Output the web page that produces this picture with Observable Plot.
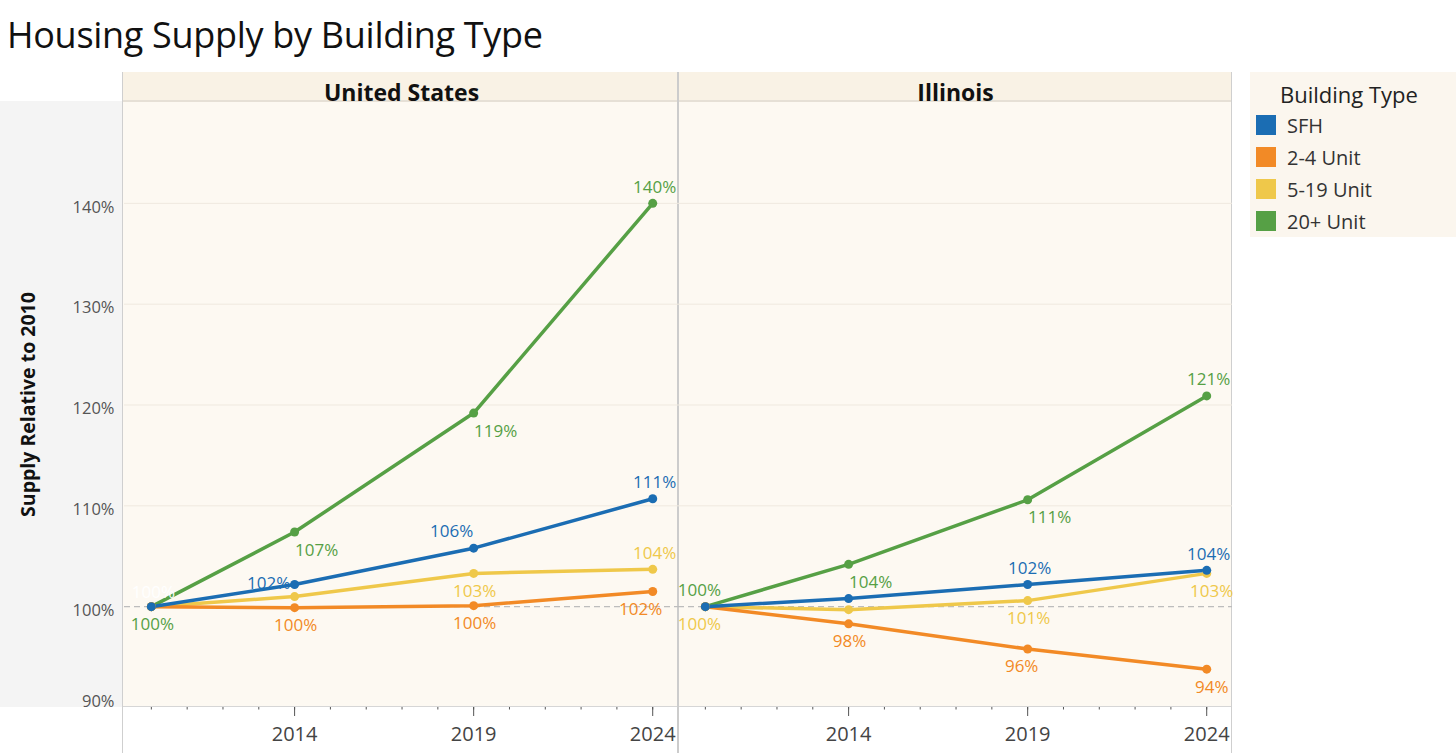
<!DOCTYPE html>
<html>
<head>
<meta charset="utf-8">
<script src="https://cdn.jsdelivr.net/npm/d3@7"></script>
<script src="https://cdn.jsdelivr.net/npm/@observablehq/plot@0.6"></script>
<style>
  html, body { margin: 0; padding: 0; background: #fff; }
  body { font-family: "Open Sans", sans-serif; }
  #wrap { position: relative; width: 1456px; height: 753px; overflow: hidden; }
  .abs { position: absolute; }
  #title { left: 7px; top: 10px; font-size: 36px; letter-spacing: -0.3px; color: #111; white-space: nowrap; line-height: 1.362; }
  #chart { left: 0; top: 72px; }
  #legend { left: 1250px; top: 72px; width: 206px; height: 165px; background: #fbf6ee; }
  #legend .lt { position: absolute; left: 30px; top: 7px; font-size: 22px; color: #222; white-space: nowrap; }
  #legend .item { position: absolute; left: 6px; height: 20px; display: flex; align-items: center; font-size: 20px; color: #333; white-space: nowrap; }
  #legend .sw { width: 20px; height: 20px; margin-right: 11px; flex: none; }
</style>
</head>
<body>
<div id="wrap">
  <div id="title" class="abs">Housing Supply by Building Type</div>
  <div class="abs" style="left:0;top:101px;width:123px;height:606px;background:#f4f4f4"></div>
  <div class="abs" style="left:123px;top:72px;width:1109px;height:29px;background:#f9f2e5"></div>
  <div class="abs" style="left:123px;top:101px;width:1109px;height:606px;background:#fdf9f2"></div>
  <div class="abs" style="left:123px;top:100px;width:1109px;height:2px;background:#e6e0d6"></div>
  <div class="abs" style="left:123px;top:706px;width:1109px;height:1px;background:#d6d6d6"></div>
  <div class="abs" style="left:122px;top:72px;width:1px;height:681px;background:#cfcfcf"></div>
  <div class="abs" style="left:677px;top:72px;width:2px;height:681px;background:#cccccc"></div>
  <div class="abs" style="left:1231px;top:72px;width:1px;height:681px;background:#cfcfcf"></div>
  <div id="chart" class="abs"></div>
  <div id="legend" class="abs"><div class="lt">Building Type</div></div>
</div>
<script>
const regions = ["United States", "Illinois"];
const types = ["SFH", "2-4 Unit", "5-19 Unit", "20+ Unit"];
const colors = ["#1b6db3", "#f28a26", "#efc84a", "#56a045"];
const years = [2010, 2014, 2019, 2024];
const yTicks = [100, 110, 120, 130, 140];
const yTickBottom = [90];
const xTicks = [2014, 2019, 2024];

const usSFH   = [100, 102.2, 105.8, 110.7];
const us24    = [100, 99.9, 100.1, 101.5];
const us519   = [100, 101.0, 103.3, 103.7];
const us20    = [100, 107.4, 119.2, 140.0];
const ilSFH   = [100, 100.8, 102.2, 103.6];
const il24    = [100, 98.3, 95.8, 93.8];
const il519   = [100, 99.7, 100.6, 103.3];
const il20    = [100, 104.2, 110.6, 120.9];

const series = [
  ["United States", "20+ Unit", us20],
  ["United States", "5-19 Unit", us519],
  ["United States", "2-4 Unit", us24],
  ["United States", "SFH", usSFH],
  ["Illinois", "20+ Unit", il20],
  ["Illinois", "5-19 Unit", il519],
  ["Illinois", "2-4 Unit", il24],
  ["Illinois", "SFH", ilSFH]
];

// which points carry a value label, and where the label sits
const labels = [
  ["United States", "SFH", 2010, "hidden"],
  ["United States", "20+ Unit", 2010, "below"],
  ["United States", "20+ Unit", 2014, "belowRight"],
  ["United States", "20+ Unit", 2019, "belowRight"],
  ["United States", "20+ Unit", 2024, "above"],
  ["United States", "SFH", 2014, "left"],
  ["United States", "SFH", 2019, "aboveLeft"],
  ["United States", "SFH", 2024, "above"],
  ["United States", "5-19 Unit", 2019, "below"],
  ["United States", "5-19 Unit", 2024, "above"],
  ["United States", "2-4 Unit", 2014, "below"],
  ["United States", "2-4 Unit", 2019, "below"],
  ["United States", "2-4 Unit", 2024, "belowLeft"],
  ["Illinois", "20+ Unit", 2010, "aboveL"],
  ["Illinois", "20+ Unit", 2014, "belowRight"],
  ["Illinois", "20+ Unit", 2019, "belowRight"],
  ["Illinois", "20+ Unit", 2024, "above"],
  ["Illinois", "SFH", 2019, "above"],
  ["Illinois", "SFH", 2024, "above"],
  ["Illinois", "5-19 Unit", 2010, "belowL"],
  ["Illinois", "5-19 Unit", 2019, "below"],
  ["Illinois", "5-19 Unit", 2024, "belowR"],
  ["Illinois", "2-4 Unit", 2014, "below"],
  ["Illinois", "2-4 Unit", 2019, "belowL"],
  ["Illinois", "2-4 Unit", 2024, "belowR"]
];

const offsets = {
  above: [2, -16], below: [1, 18], belowRight: [22, 18], aboveLeft: [-22, -17],
  left: [-26, -1], belowLeft: [-12, 18], aboveL: [-6, -16], belowL: [-6, 18],
  belowR: [5, 18], hidden: [2, -14]
};

const data = series.flatMap(([region, type, vals]) =>
  vals.map((v, i) => ({region, type, year: years[i], value: v})));

const labelRows = labels.map(([region, type, year, pos]) => {
  const d = data.find(r => r.region === region && r.type === type && r.year === year);
  return {...d, pos};
});

const fmt = v => Math.round(v) + "%";

const labelMarks = Object.entries(offsets).map(([pos, [dx, dy]]) =>
  Plot.text(labelRows.filter(r => r.pos === pos), {
    x: "year", y: "value", fx: "region", text: d => fmt(d.value),
    fill: pos === "hidden" ? "#ffffff" : "type",
    dx, dy, fontSize: 17
  }));

const chart = Plot.plot({
  width: 1232,
  height: 681,
  marginLeft: 123,
  marginRight: 0,
  marginTop: 29,
  marginBottom: 46,
  style: {fontFamily: "Open Sans, sans-serif", background: "transparent", overflow: "visible"},
  fx: {domain: regions, padding: 0, label: null},
  x: {domain: [2009.25, 2024.72], label: null},
  y: {domain: [90, 150.1], label: null},
  color: {domain: types, range: colors},
  marks: [
    Plot.gridY([110, 120, 130, 140], {stroke: "#efe9df", strokeOpacity: 1}),
    Plot.ruleY([100], {stroke: "#bdbdbd", strokeDasharray: "6,4", strokeWidth: 1.2}),
    Plot.axisFx({anchor: "top", tickSize: 0, tickPadding: 1, fontSize: 23, fontWeight: "bold", fill: "#111", label: null}),
    Plot.axisY({ticks: yTicks, tickSize: 0, tickPadding: 10, dy: 4, tickFormat: d => d + "%", fontSize: 16.5, fill: "#555", label: null}),
    Plot.axisY({ticks: yTickBottom, tickSize: 0, tickPadding: 10, dy: -6, tickFormat: d => d + "%", fontSize: 16.5, fill: "#555", label: null}),
    Plot.axisX({ticks: d3.range(2010, 2025), tickSize: 2.5, tickFormat: () => "", stroke: "#555", label: null}),
    Plot.axisX({ticks: xTicks, tickSize: 9, tickPadding: 10, tickFormat: d => String(d), fontSize: 20, fill: "#444", stroke: "#555", label: null}),
    Plot.text([{region: "United States"}], {fx: "region", frameAnchor: "left", dx: -96, rotate: -90, textAnchor: "middle",
      text: () => "Supply Relative to 2010", fontSize: 19.5, fontWeight: "bold", fill: "#111"}),
    Plot.line(data, {x: "year", y: "value", z: "type", stroke: "type", fx: "region", strokeWidth: 3.5}),
    Plot.dot(data, {x: "year", y: "value", fill: "type", fx: "region", r: 4.5}),
    ...labelMarks
  ]
});
document.getElementById("chart").appendChild(chart);

// legend built from the same colour scale
const scale = chart.scale("color");
const legendEl = document.getElementById("legend");
types.forEach((t, i) => {
  const item = document.createElement("div");
  item.className = "item";
  item.style.top = (43 + i * 32) + "px";
  const sw = document.createElement("div");
  sw.className = "sw";
  sw.style.background = scale.apply(t);
  const lab = document.createElement("span");
  lab.textContent = t;
  item.appendChild(sw);
  item.appendChild(lab);
  legendEl.appendChild(item);
});
</script>
</body>
</html>
